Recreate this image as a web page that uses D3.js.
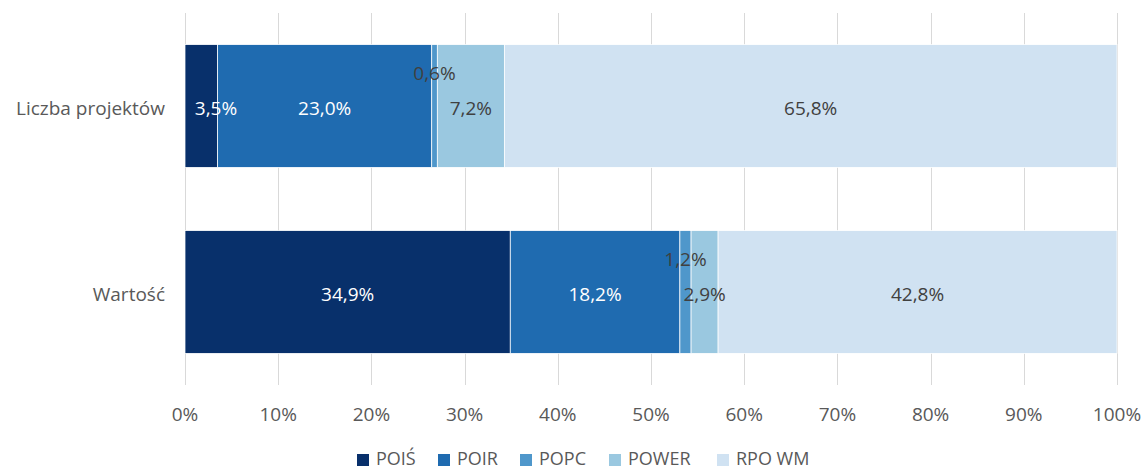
<!DOCTYPE html>
<html>
<head>
<meta charset="utf-8">
<script src="https://cdn.jsdelivr.net/npm/d3@7"></script>
<style>
  body { margin: 0; background: #fff; }
  text { font-family: "Open Sans", "Liberation Sans", sans-serif; }
</style>
</head>
<body>
<div id="chart"></div>
<script>
var categories = ['Liczba projektów', 'Wartość'];
var series = ['POIŚ', 'POIR', 'POPC', 'POWER', 'RPO WM'];
var poisValues = [3.5, 34.9];
var poirValues = [23.0, 18.2];
var popcValues = [0.6, 1.2];
var powerValues = [7.2, 2.9];
var rpoValues = [65.8, 42.8];
var tickValues = [0, 0.1, 0.2, 0.3, 0.4, 0.5, 0.6, 0.7, 0.8, 0.9, 1];

var colors = {
  'POIŚ': '#08306b',
  'POIR': '#1f6bb0',
  'POPC': '#4f97cb',
  'POWER': '#9ac8e0',
  'RPO WM': '#d0e2f2'
};

var width = 1148, height = 473;
var margin = {top: 13, right: 31, bottom: 88, left: 185};
var fontSize = 19;

var rows = categories.map(function(c, i) {
  return {
    cat: c,
    'POIŚ': poisValues[i],
    'POIR': poirValues[i],
    'POPC': popcValues[i],
    'POWER': powerValues[i],
    'RPO WM': rpoValues[i]
  };
});

var stacked = d3.stack().keys(series).offset(d3.stackOffsetExpand)(rows);

var svg = d3.select('#chart').append('svg')
    .attr('width', width).attr('height', height);

var x = d3.scaleLinear().domain([0, 1])
    .range([margin.left, width - margin.right]);
var y = d3.scaleBand().domain(categories)
    .range([margin.top, height - margin.bottom])
    .paddingInner(0.34).paddingOuter(0.17);

// gridlines
svg.append('g').selectAll('line').data(tickValues).enter()
  .append('line')
    .attr('x1', function(d){ return Math.round(x(d)) + 0.5; })
    .attr('x2', function(d){ return Math.round(x(d)) + 0.5; })
    .attr('y1', margin.top).attr('y2', height - margin.bottom)
    .attr('stroke', '#d9d9d9').attr('stroke-width', 1);

// bars
var groups = svg.append('g').selectAll('g').data(stacked).enter()
  .append('g').attr('fill', function(d){ return colors[d.key]; });

groups.selectAll('rect').data(function(d){ return d; }).enter()
  .append('rect')
    .attr('x', function(d){ return x(d[0]); })
    .attr('width', function(d){ return x(d[1]) - x(d[0]); })
    .attr('y', function(d){ return y(d.data.cat); })
    .attr('height', y.bandwidth())
    .attr('stroke', '#fff').attr('stroke-width', 0.75);

// data labels (drawn after all bars so nothing covers them)
var fmt = function(v){ return v.toFixed(1).replace('.', ',') + '%'; };
var labelLayer = svg.append('g');
stacked.forEach(function(s) {
  var key = s.key;
  labelLayer.append('g').selectAll('text').data(s).enter()
    .append('text')
      .attr('x', function(d){
        var cx = (x(d[0]) + x(d[1])) / 2;
        if (key === 'POIŚ' && x(d[1]) - x(d[0]) < 60) cx = x(d[0]) + 31;
        return cx;
      })
      .attr('y', function(d){
        var cy = y(d.data.cat) + y.bandwidth() / 2 + 2;
        return key === 'POPC' ? cy - 35 : cy;
      })
      .attr('dy', '0.35em')
      .attr('text-anchor', 'middle')
      .attr('font-size', fontSize)
      .attr('fill', (key === 'POIŚ' || key === 'POIR') ? '#ffffff' : '#404040')
      .text(function(d){ return fmt(d.data[key]); });
});

// x axis labels
svg.append('g').selectAll('text').data(tickValues).enter()
  .append('text')
    .attr('x', function(d){ return x(d); })
    .attr('y', 414).attr('dy', '0.35em')
    .attr('text-anchor', 'middle')
    .attr('font-size', fontSize).attr('fill', '#595959')
    .text(function(d){ return Math.round(d * 100) + '%'; });

// category labels
svg.append('g').selectAll('text').data(categories).enter()
  .append('text')
    .attr('x', margin.left - 20)
    .attr('y', function(d){ return y(d) + y.bandwidth() / 2 + 2; })
    .attr('dy', '0.35em')
    .attr('text-anchor', 'end')
    .attr('font-size', fontSize).attr('fill', '#595959')
    .text(function(d){ return d; });

// legend
var legendX = [357, 438, 520, 609, 717];
var legend = svg.append('g').selectAll('g').data(series).enter()
  .append('g')
    .attr('transform', function(d, i){ return 'translate(' + legendX[i] + ',459)'; });
legend.append('rect')
    .attr('x', 0).attr('y', -5).attr('width', 12).attr('height', 12)
    .attr('fill', function(d){ return colors[d]; });
legend.append('text')
    .attr('x', 19).attr('dy', '0.35em')
    .attr('font-size', 18).attr('fill', '#595959')
    .text(function(d){ return d; });
</script>
</body>
</html>
